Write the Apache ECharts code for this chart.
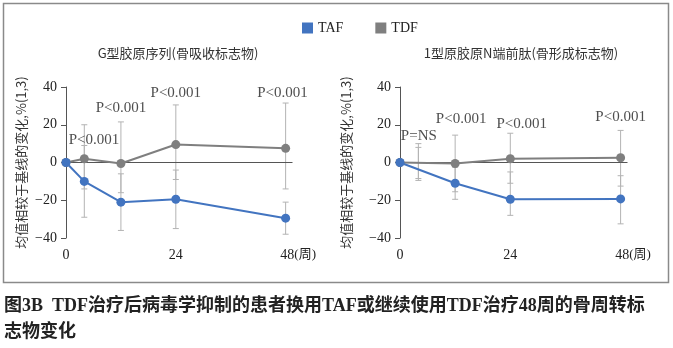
<!DOCTYPE html>
<html>
<head>
<meta charset="utf-8">
<script src="https://cdn.jsdelivr.net/npm/echarts@6/dist/echarts.min.js"></script>
<style>
  html, body { margin: 0; padding: 0; background: #ffffff; }
  #chart { width: 673px; height: 348px; }
</style>
</head>
<body>
<div id="chart"></div>
<script>
// Series names and panel titles
const seriesNames = ['TAF', 'TDF'];
const panelTitles = ['G型胶原序列(骨吸收标志物)', '1型原胶原N端前肽(骨形成标志物)'];
const yAxisName = '均值相较于基线的变化,%(1,3)';
const caption1 = '图3B  TDF治疗后病毒学抑制的患者换用TAF或继续使用TDF治疗48周的骨周转标';
const caption2 = '志物变化';

// Left panel: CTX (bone resorption), mean % change from baseline
const leftWeeks = [0, 4, 12, 24, 48];
const leftTAF = [0, -10, -21, -19.5, -29.5];
const leftTDF = [0, 2, -0.5, 9.5, 7.5];
// error bar ranges [low, high]
const leftBarWeeks = [4, 12, 24, 48];
const leftTAFLow = [-29, -36, -35, -38];
const leftTAFHigh = [9, -6, -4, -21];
const leftTDFLow = [-14, -16, -9, -14];
const leftTDFHigh = [20, 21.5, 30.5, 31.5];
// P-value annotations (week, y, text)
const leftPWeeks = [6.1, 12, 24, 47.3];
const leftPY = [12, 29, 37, 37];
const leftPText = ['P<0.001', 'P<0.001', 'P<0.001', 'P<0.001'];

// Right panel: P1NP (bone formation)
const rightWeeks = [0, 12, 24, 48];
const rightTAF = [0, -11, -19.5, -19.3];
const rightTDF = [0, -0.5, 2, 2.5];
const rightBarWeeks = [4, 12, 24, 48];
const rightTAFLow = [-9.5, -19.5, -28, -32.5];
const rightTAFHigh = [8, -2.5, -5, -7];
const rightTDFLow = [-8.5, -15.5, -11, -12.5];
const rightTDFHigh = [10, 14.5, 15.5, 17];
const rightPWeeks = [4.1, 13.3, 26.5, 48];
const rightPY = [14, 23, 20.5, 24];
const rightPText = ['P=NS', 'P<0.001', 'P<0.001', 'P<0.001'];

// Axis ticks
const yMin = -40, yMax = 40, yStep = 20;
const xMin = 0, xMax = 49.5, xStep = 24;

const BLUE = '#4274c0';
const GRAY = '#7f7f7f';
const BAR = '#b3b3b3';
const AXIS = '#555555';
const SERIF = '"Liberation Serif", "Noto Sans CJK SC", serif';
const CJK = '"Noto Sans CJK SC", sans-serif';
const seriesColors = { TAF: BLUE, TDF: GRAY };

const zip = (xs, ys) => xs.map((x, i) => [x, ys[i]]);
const bars = (xs, lo, hi) => xs.map((x, i) => [x, lo[i], hi[i]]);

function errorBarSeries(name, data, idx) {
  return {
    name: name,
    type: 'custom',
    xAxisIndex: idx, yAxisIndex: idx,
    z: 1,
    silent: true,
    itemStyle: { color: seriesColors[name] },
    data: data,
    renderItem: function (params, api) {
      const x = api.value(0);
      const lo = api.coord([x, api.value(1)]);
      const hi = api.coord([x, api.value(2)]);
      const cap = 3;
      const st = { stroke: BAR, lineWidth: 1 };
      return {
        type: 'group',
        children: [
          { type: 'line', shape: { x1: lo[0], y1: lo[1], x2: hi[0], y2: hi[1] }, style: st },
          { type: 'line', shape: { x1: lo[0] - cap, y1: lo[1], x2: lo[0] + cap, y2: lo[1] }, style: st },
          { type: 'line', shape: { x1: hi[0] - cap, y1: hi[1], x2: hi[0] + cap, y2: hi[1] }, style: st }
        ]
      };
    }
  };
}

function lineSeries(name, data, idx, withZero) {
  const color = seriesColors[name];
  const s = {
    name: name,
    type: 'line',
    xAxisIndex: idx, yAxisIndex: idx,
    data: data,
    z: 3,
    symbol: 'circle',
    symbolSize: 9,
    itemStyle: { color: color },
    lineStyle: { color: color, width: 2 }
  };
  if (withZero) {
    s.markLine = {
      silent: true,
      symbol: 'none',
      z: 2,
      label: { show: false },
      lineStyle: { color: AXIS, width: 1, type: 'solid' },
      data: [{ yAxis: 0 }]
    };
  }
  return s;
}

function pLabelSeries(xs, ys, texts, idx) {
  return {
    type: 'scatter',
    xAxisIndex: idx, yAxisIndex: idx,
    symbolSize: 0,
    silent: true,
    z: 4,
    data: xs.map((x, i) => ({ value: [x, ys[i]], name: texts[i] })),
    label: {
      show: true,
      position: 'inside',
      formatter: p => p.name,
      fontFamily: SERIF,
      fontSize: 15,
      color: '#222'
    }
  };
}

function xAxisCfg(idx) {
  return {
    gridIndex: idx,
    type: 'value',
    min: xMin, max: xMax, interval: xStep,
    axisLine: { show: false },
    axisTick: { show: false },
    splitLine: { show: false },
    axisLabel: {
      showMaxLabel: false,
      margin: 10,
      fontFamily: SERIF,
      fontSize: 14,
      color: '#222',
      formatter: v => v === 48 ? '{pad|}48{u|(周)}' : String(v),
      rich: {
        pad: { width: 25 },
        u: { fontFamily: SERIF, fontSize: 13, color: '#222' }
      }
    }
  };
}

function yAxisCfg(idx, gap) {
  return {
    gridIndex: idx,
    type: 'value',
    min: yMin, max: yMax, interval: yStep,
    name: yAxisName,
    nameLocation: 'middle',
    nameRotate: 90,
    nameGap: gap,
    nameTextStyle: { fontFamily: CJK, fontSize: 13, color: '#333' },
    axisLine: { show: true, lineStyle: { color: AXIS, width: 1 } },
    axisTick: { show: true, length: 5, lineStyle: { color: AXIS } },
    splitLine: { show: false },
    axisLabel: {
      margin: 9,
      fontFamily: SERIF,
      fontSize: 14,
      color: '#222',
      formatter: v => String(v).replace('-', '\u2212')
    }
  };
}

const chart = echarts.init(document.getElementById('chart'), null, { renderer: 'canvas' });

chart.setOption({
  animation: false,
  backgroundColor: '#ffffff',
  legend: {
    data: seriesNames.map(n => ({ name: n, icon: 'rect', itemStyle: { color: seriesColors[n] } })),
    left: 297, top: 16,
    itemWidth: 11, itemHeight: 11,
    itemGap: 32,
    textStyle: { fontFamily: SERIF, fontSize: 14, color: '#222' }
  },
  grid: [
    { left: 66, top: 87, width: 226.5, height: 151 },
    { left: 400, top: 87, width: 227.5, height: 151 }
  ],
  xAxis: [xAxisCfg(0), xAxisCfg(1)],
  yAxis: [yAxisCfg(0, 38), yAxisCfg(1, 47)],
  series: [
    errorBarSeries('TDF', bars(leftBarWeeks, leftTDFLow, leftTDFHigh), 0),
    errorBarSeries('TAF', bars(leftBarWeeks, leftTAFLow, leftTAFHigh), 0),
    lineSeries('TDF', zip(leftWeeks, leftTDF), 0, true),
    lineSeries('TAF', zip(leftWeeks, leftTAF), 0, false),
    pLabelSeries(leftPWeeks, leftPY, leftPText, 0),

    errorBarSeries('TDF', bars(rightBarWeeks, rightTDFLow, rightTDFHigh), 1),
    errorBarSeries('TAF', bars(rightBarWeeks, rightTAFLow, rightTAFHigh), 1),
    lineSeries('TDF', zip(rightWeeks, rightTDF), 1, true),
    lineSeries('TAF', zip(rightWeeks, rightTAF), 1, false),
    pLabelSeries(rightPWeeks, rightPY, rightPText, 1)
  ],
  graphic: [
    {
      type: 'rect', silent: true,
      shape: { x: 3.5, y: 3.5, width: 665, height: 279 },
      style: { fill: 'none', stroke: '#8a8a8a', lineWidth: 1.5 }
    },
    {
      type: 'text', silent: true, x: 178, y: 53,
      style: { text: panelTitles[0], font: '13px ' + CJK, fill: '#333', textAlign: 'center', textVerticalAlign: 'middle' }
    },
    {
      type: 'text', silent: true, x: 521, y: 53,
      style: { text: panelTitles[1], font: '13px ' + CJK, fill: '#333', textAlign: 'center', textVerticalAlign: 'middle' }
    },
    {
      type: 'text', silent: true, x: 4, y: 306,
      style: { text: caption1, font: 'bold 18px ' + SERIF, fill: '#222', textAlign: 'left', textVerticalAlign: 'middle' }
    },
    {
      type: 'text', silent: true, x: 4, y: 332,
      style: { text: caption2, font: 'bold 18px ' + SERIF, fill: '#222', textAlign: 'left', textVerticalAlign: 'middle' }
    }
  ]
});
</script>
</body>
</html>
